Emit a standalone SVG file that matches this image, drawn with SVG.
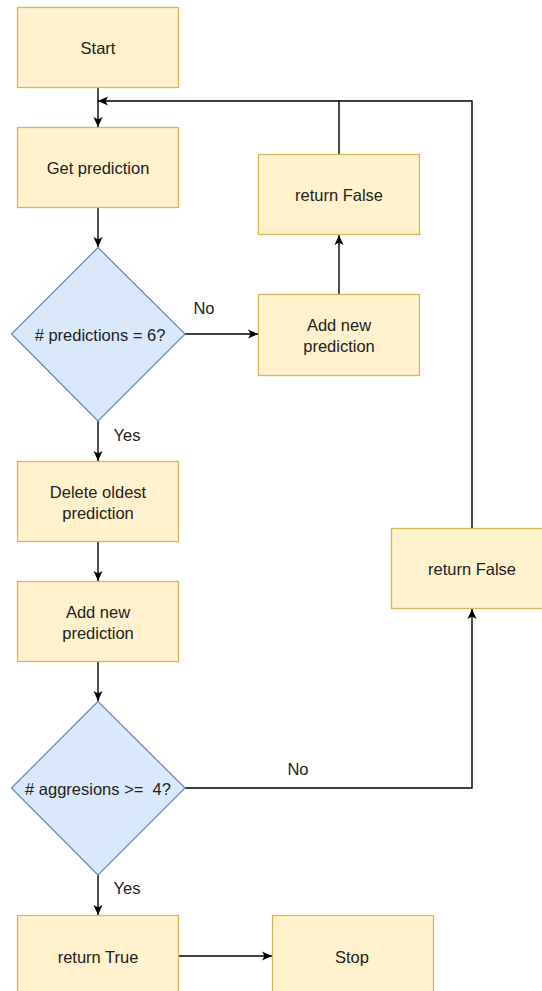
<svg xmlns="http://www.w3.org/2000/svg" width="542" height="991" viewBox="0 0 542 991">
<style>
.box{fill:#fff2cc;stroke:#d6b656;stroke-width:1.3}
.dia{fill:#dae8fc;stroke:#6c8ebf;stroke-width:1.3}
.t{font-family:"Liberation Sans",Arial,sans-serif;font-size:16.5px;fill:#222;text-anchor:middle;dominant-baseline:central;white-space:pre}
.e{fill:none;stroke:#000;stroke-width:1.4}
.lbl{font-family:"Liberation Sans",Arial,sans-serif;font-size:16.5px;fill:#222;text-anchor:middle;dominant-baseline:central}
</style>
<defs>
<marker id="arr" viewBox="0 0 10 10" refX="10" refY="5" markerWidth="10" markerHeight="10" markerUnits="userSpaceOnUse" orient="auto">
<path d="M0,0.5 L10,5 L0,9.5 L2.5,5 Z" fill="#000"/>
</marker>
</defs>
<rect width="542" height="991" fill="#fff"/>
<g id="connectors">
<path class="e" d="M98,88 V127" marker-end="url(#arr)"/>
<path class="e" d="M98,208 V247" marker-end="url(#arr)"/>
<path class="e" d="M185,334 H258" marker-end="url(#arr)"/>
<path class="e" d="M339,294 V235" marker-end="url(#arr)"/>
<path class="e" d="M339,154 V101 H98" marker-end="url(#arr)"/>
<path class="e" d="M98,421 V461" marker-end="url(#arr)"/>
<path class="e" d="M98,541 V581" marker-end="url(#arr)"/>
<path class="e" d="M98,661 V701" marker-end="url(#arr)"/>
<path class="e" d="M185,788 H472 V609" marker-end="url(#arr)"/>
<path class="e" d="M472,529 V101 H339"/>
<path class="e" d="M98,875 V915" marker-end="url(#arr)"/>
<path class="e" d="M179,956 H272" marker-end="url(#arr)"/>
<text class="lbl" x="204" y="308">No</text>
<text class="lbl" x="127" y="435">Yes</text>
<text class="lbl" x="298" y="769">No</text>
<text class="lbl" x="127" y="888">Yes</text>
</g>
<g id="start"><rect class="box" x="17.5" y="7.5" width="161" height="80"/><text class="t" x="98" y="48">Start</text></g>
<g id="get-prediction"><rect class="box" x="17.5" y="127.5" width="161" height="80"/><text class="t" x="98" y="168">Get prediction</text></g>
<g id="dec-predictions"><polygon class="dia" points="98,247.5 185,334 98,421 11.5,334"/><text class="t" x="100" y="335"># predictions = 6?</text></g>
<g id="return-false-1"><rect class="box" x="258.5" y="154.5" width="161" height="80"/><text class="t" x="339" y="195">return False</text></g>
<g id="add-new-1"><rect class="box" x="258.5" y="294.5" width="161" height="81"/><text class="t" x="339" y="325">Add new</text><text class="t" x="339" y="346">prediction</text></g>
<g id="delete-oldest"><rect class="box" x="17.5" y="461.5" width="161" height="80"/><text class="t" x="98" y="492">Delete oldest</text><text class="t" x="98" y="513">prediction</text></g>
<g id="add-new-2"><rect class="box" x="17.5" y="581.5" width="161" height="80"/><text class="t" x="98" y="612">Add new</text><text class="t" x="98" y="633">prediction</text></g>
<g id="dec-aggresions"><polygon class="dia" points="98,701.5 185,788 98,875 11.5,788"/><text class="t" x="98" y="789"># aggresions &gt;=  4?</text></g>
<g id="return-false-2"><rect class="box" x="391.5" y="528.5" width="161" height="80"/><text class="t" x="472" y="569">return False</text></g>
<g id="return-true"><rect class="box" x="17.5" y="915.5" width="161" height="80"/><text class="t" x="98" y="957">return True</text></g>
<g id="stop"><rect class="box" x="272.5" y="915.5" width="161" height="80"/><text class="t" x="352" y="957">Stop</text></g>
</svg>
